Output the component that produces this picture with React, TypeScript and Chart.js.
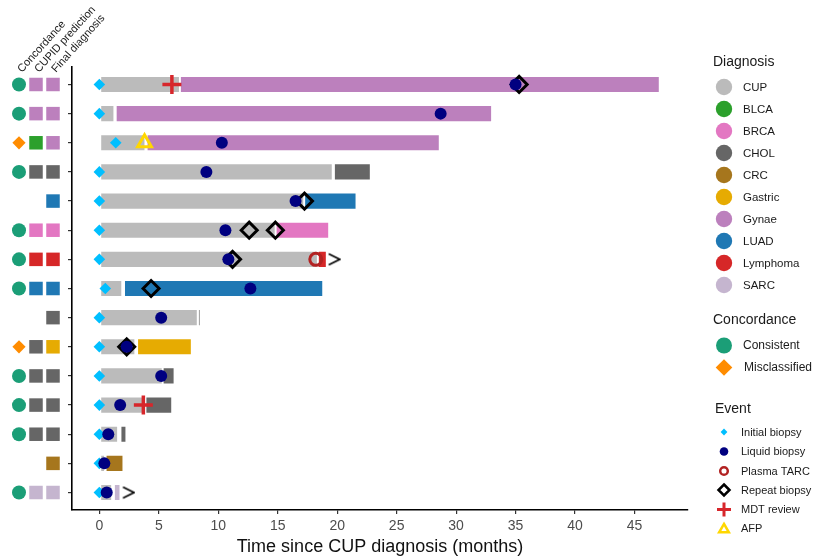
import React, { useEffect, useRef } from 'react';
import { Chart, registerables } from 'chart.js';

Chart.register(...registerables);

// ---------- data ----------
const rows = [1, 2, 3, 4, 5, 6, 7, 8, 9, 10, 11, 12, 13, 14, 15];

const diagnosisNames = ['CUP', 'BLCA', 'BRCA', 'CHOL', 'CRC', 'Gastric', 'Gynae', 'LUAD', 'Lymphoma', 'SARC'];
const diagnosisColors = ['#BBBBBB', '#2CA02C', '#E377C2', '#666666', '#A6761D', '#E6AB02', '#BC80BD', '#1F78B4', '#D62728', '#C5B5CF'];

const cupStart = [0.1, 0.1, 0.1, 0.1, 0.1, 0.1, 0.1, 0.1, 0.1, 0.1, 0.1, 0.1, 0.1, 0.1, 0.1];
const cupEnd = [6.75, 1.24, 3.85, 19.6, 17.2, 14.8, 18.35, 1.9, 8.25, 3.0, 5.3, 3.85, 1.55, 0.45, 1.05];
const finalStart = [6.8, 1.4, 4.0, 19.75, 17.25, 14.85, 18.4, 2.1, 8.35, 3.2, 5.35, 3.9, 1.8, 0.55, 1.25];
const finalEnd = [47.1, 33.0, 28.6, 22.8, 21.6, 19.3, 19.1, 18.8, 8.45, 7.75, 6.3, 6.1, 2.25, 2.0, 1.75];
const finalDiagnosis = ['Gynae', 'Gynae', 'Gynae', 'CHOL', 'LUAD', 'BRCA', 'Lymphoma', 'LUAD', 'CHOL', 'Gastric', 'CHOL', 'CHOL', 'CHOL', 'CRC', 'SARC'];
const cupidPrediction = ['Gynae', 'Gynae', 'BLCA', 'CHOL', null, 'BRCA', 'Lymphoma', 'LUAD', null, 'CHOL', 'CHOL', 'CHOL', 'CHOL', null, 'SARC'];
const concordance = ['Consistent', 'Consistent', 'Misclassified', 'Consistent', null, 'Consistent', 'Consistent', 'Consistent', null, 'Misclassified', 'Consistent', 'Consistent', 'Consistent', null, 'Consistent'];

const initialBiopsyTime = [0, 0, 1.38, 0, 0, 0, 0, 0.5, 0, 0, 0, 0, 0, 0, 0];
const liquidBiopsyTime = [35.0, 28.7, 10.3, 9.0, 16.5, 10.6, 10.85, 12.7, 5.2, 2.3, 5.2, 1.75, 0.75, 0.42, 0.62];
const plasmaTarcRow = [7];
const plasmaTarcTime = [18.2];
const repeatBiopsyRow = [1, 5, 6, 6, 7, 8, 10];
const repeatBiopsyTime = [35.3, 17.25, 12.6, 14.8, 11.2, 4.35, 2.3];
const mdtRow = [1, 12];
const mdtTime = [6.1, 3.7];
const afpRow = [3];
const afpTime = [3.8];
const ongoingRow = [7, 15];
const ongoingTime = [19.75, 2.45];

const xTicks = [0, 5, 10, 15, 20, 25, 30, 35, 40, 45];
const headerLabels = ['Concordance', 'CUPID prediction', 'Final diagnosis'];
const eventLabels = ['Initial biopsy', 'Liquid biopsy', 'Plasma TARC', 'Repeat biopsy', 'MDT review', 'AFP'];
const concordanceLabels = ['Consistent', 'Misclassified'];

// ---------- styling constants ----------
const COL_OFFSETS = [53, 36, 19]; // px left of the plot area for the three side columns
const FONT = '"Liberation Sans", Arial, Helvetica, sans-serif';
const TEAL = '#1B9E77';
const ORANGE = '#FF8C00';
const INITIAL = '#00BFFF';
const LIQUID = '#000080';
const TARC = '#B22222';
const MDT = '#D7262B';
const AFP = '#FFD700';

const colorOf = (n: string) => diagnosisColors[diagnosisNames.indexOf(n)];

function makeArrow(): HTMLCanvasElement {
  const c = document.createElement('canvas');
  c.width = 14;
  c.height = 14;
  const g = c.getContext('2d')!;
  g.strokeStyle = '#000';
  g.lineWidth = 1.6;
  g.beginPath();
  g.moveTo(1.5, 1.5);
  g.lineTo(12.5, 7);
  g.lineTo(1.5, 12.5);
  g.stroke();
  return c;
}

function diamondPath(ctx: CanvasRenderingContext2D, x: number, y: number, r: number) {
  ctx.beginPath();
  ctx.moveTo(x, y - r);
  ctx.lineTo(x + r, y);
  ctx.lineTo(x, y + r);
  ctx.lineTo(x - r, y);
  ctx.closePath();
}

function squareFill(ctx: CanvasRenderingContext2D, x: number, y: number, s: number, color: string) {
  ctx.fillStyle = color;
  ctx.fillRect(x - s / 2, y - s / 2, s, s);
}

const overlayPlugin = {
  id: 'overlay',
  afterDraw(chart: any) {
    const ctx: CanvasRenderingContext2D = chart.ctx;
    const ys = chart.scales.y;
    const left = chart.chartArea.left;
    const colX = COL_OFFSETS.map((o) => left - o);
    ctx.save();

    // side columns: concordance, CUPID prediction, final diagnosis
    rows.forEach((r, i) => {
      const y = ys.getPixelForValue(r);
      if (concordance[i] === 'Consistent') {
        ctx.beginPath();
        ctx.arc(colX[0], y, 7, 0, Math.PI * 2);
        ctx.fillStyle = TEAL;
        ctx.fill();
      } else if (concordance[i] === 'Misclassified') {
        diamondPath(ctx, colX[0], y, 6.6);
        ctx.fillStyle = ORANGE;
        ctx.fill();
      }
      const cp = cupidPrediction[i];
      if (cp) squareFill(ctx, colX[1], y, 13.5, colorOf(cp));
      squareFill(ctx, colX[2], y, 13.5, colorOf(finalDiagnosis[i]));
    });

    // rotated header labels
    ctx.fillStyle = '#1a1a1a';
    ctx.font = `11px ${FONT}`;
    ctx.textAlign = 'left';
    ctx.textBaseline = 'alphabetic';
    colX.forEach((px, i) => {
      ctx.save();
      ctx.translate(px + 3, 73);
      ctx.rotate(-48 * Math.PI / 180);
      ctx.fillText(headerLabels[i], 0, 0);
      ctx.restore();
    });

    // legend: Diagnosis
    const lx = 713;
    const mx = 724;
    ctx.textBaseline = 'middle';
    ctx.font = `14px ${FONT}`;
    ctx.fillStyle = '#1a1a1a';
    ctx.fillText('Diagnosis', lx, 62);
    ctx.font = `11.5px ${FONT}`;
    diagnosisNames.forEach((n, i) => {
      const y = 87 + i * 22;
      ctx.beginPath();
      ctx.arc(mx, y, 8.2, 0, Math.PI * 2);
      ctx.fillStyle = diagnosisColors[i];
      ctx.fill();
      ctx.fillStyle = '#1a1a1a';
      ctx.fillText(n, 743, y + 0.5);
    });

    // legend: Concordance
    ctx.font = `14px ${FONT}`;
    ctx.fillText('Concordance', lx, 320);
    ctx.font = `12px ${FONT}`;
    ctx.beginPath();
    ctx.arc(mx, 345.5, 8, 0, Math.PI * 2);
    ctx.fillStyle = TEAL;
    ctx.fill();
    diamondPath(ctx, mx, 367.5, 8.3);
    ctx.fillStyle = ORANGE;
    ctx.fill();
    ctx.fillStyle = '#1a1a1a';
    ctx.fillText(concordanceLabels[0], 743, 345.5);
    ctx.fillText(concordanceLabels[1], 744, 367.5);

    // legend: Event
    ctx.font = `14px ${FONT}`;
    ctx.fillText('Event', 715, 409);
    ctx.font = `11px ${FONT}`;
    const ey = [432, 451.5, 471, 490, 509.5, 528.5];
    diamondPath(ctx, mx, ey[0], 3.4);
    ctx.fillStyle = INITIAL;
    ctx.fill();
    ctx.beginPath();
    ctx.arc(mx, ey[1], 4.3, 0, Math.PI * 2);
    ctx.fillStyle = LIQUID;
    ctx.fill();
    ctx.beginPath();
    ctx.arc(mx, ey[2], 3.8, 0, Math.PI * 2);
    ctx.strokeStyle = TARC;
    ctx.lineWidth = 2.5;
    ctx.stroke();
    diamondPath(ctx, mx, ey[3], 5.5);
    ctx.strokeStyle = '#000';
    ctx.lineWidth = 2.5;
    ctx.stroke();
    ctx.beginPath();
    ctx.moveTo(mx - 7, ey[4]);
    ctx.lineTo(mx + 7, ey[4]);
    ctx.moveTo(mx, ey[4] - 7);
    ctx.lineTo(mx, ey[4] + 7);
    ctx.strokeStyle = MDT;
    ctx.lineWidth = 3;
    ctx.stroke();
    ctx.beginPath();
    const tr = 5.6;
    for (let k = 0; k < 3; k++) {
      const a = -Math.PI / 2 + k * 2 * Math.PI / 3;
      const px = mx + Math.cos(a) * tr;
      const py = ey[5] + 1 + Math.sin(a) * tr;
      if (k === 0) ctx.moveTo(px, py); else ctx.lineTo(px, py);
    }
    ctx.closePath();
    ctx.strokeStyle = AFP;
    ctx.lineWidth = 2.5;
    ctx.stroke();
    ctx.fillStyle = '#1a1a1a';
    eventLabels.forEach((t, i) => ctx.fillText(t, 741, ey[i] + 0.5));
    ctx.restore();
  },
};

export default function App() {
  const ref = useRef<HTMLCanvasElement | null>(null);

  useEffect(() => {
    const canvas = ref.current;
    if (!canvas) return;
    const arrow = makeArrow();

    const pts = (rs: number[], ts: number[]) => rs.map((r, i) => ({ x: ts[i], y: r }));
    const scatterBase = { type: 'scatter' as const, showLine: false };

    const chart = new Chart(canvas, {
      type: 'bar',
      data: {
        datasets: [
          {
            type: 'bar',
            indexAxis: 'y',
            data: rows.map((r, i) => ({ y: r, x: [cupStart[i], cupEnd[i]] })) as any,
            backgroundColor: colorOf('CUP'),
            borderColor: 'rgba(255,255,255,0.35)',
            borderWidth: 1,
            borderSkipped: false,
            barThickness: 16.5,
            grouped: false,
            order: 30,
          } as any,
          {
            type: 'bar',
            indexAxis: 'y',
            data: rows.map((r, i) => ({ y: r, x: [finalStart[i], finalEnd[i]] })) as any,
            backgroundColor: finalDiagnosis.map(colorOf),
            borderColor: 'rgba(255,255,255,0.35)',
            borderWidth: 1,
            borderSkipped: false,
            barThickness: 16.5,
            grouped: false,
            order: 29,
          } as any,
          {
            ...scatterBase,
            data: pts(rows, initialBiopsyTime),
            pointStyle: 'rectRot',
            pointRadius: 5.8,
            backgroundColor: INITIAL,
            borderWidth: 0,
            order: 20,
          },
          {
            ...scatterBase,
            data: pts(repeatBiopsyRow, repeatBiopsyTime),
            pointStyle: 'rectRot',
            pointRadius: 8,
            backgroundColor: 'rgba(0,0,0,0)',
            borderColor: '#000',
            borderWidth: 3,
            order: 19,
          },
          {
            ...scatterBase,
            data: pts(plasmaTarcRow, plasmaTarcTime),
            pointStyle: 'circle',
            pointRadius: 6,
            backgroundColor: 'rgba(0,0,0,0)',
            borderColor: TARC,
            borderWidth: 3,
            order: 18,
          },
          {
            ...scatterBase,
            data: pts(rows, liquidBiopsyTime),
            pointStyle: 'circle',
            pointRadius: 6,
            backgroundColor: LIQUID,
            borderWidth: 0,
            order: 17,
          },
          {
            ...scatterBase,
            data: pts(mdtRow, mdtTime),
            pointStyle: 'cross',
            pointRadius: 9.5,
            borderColor: MDT,
            borderWidth: 3.5,
            order: 16,
          },
          {
            ...scatterBase,
            data: pts(afpRow, afpTime),
            pointStyle: 'triangle',
            pointRadius: 8,
            backgroundColor: 'rgba(0,0,0,0)',
            borderColor: AFP,
            borderWidth: 3,
            order: 15,
          },
          {
            ...scatterBase,
            data: pts(ongoingRow, ongoingTime),
            pointStyle: arrow,
            pointRadius: 7,
            order: 14,
          },
        ],
      },
      options: {
        animation: false,
        responsive: false,
        events: [],
        layout: { padding: { left: 64, right: 127, top: 67, bottom: 0 } },
        plugins: {
          legend: { display: false },
          tooltip: { enabled: false },
        },
        scales: {
          x: {
            type: 'linear',
            offset: false,
            min: -2.3,
            max: 49.5,
            afterBuildTicks: (s: any) => {
              s.ticks = xTicks.map((v) => ({ value: v }));
            },
            afterFit: (s: any) => {
              s.height = 48;
            },
            grid: { offset: false, drawOnChartArea: false, drawTicks: true, tickLength: 4, color: '#333333', lineWidth: 1.2 },
            border: { display: true, color: '#000000', width: 1.6 },
            ticks: { color: '#4D4D4D', font: { family: FONT, size: 14 }, padding: 4 },
            title: {
              display: true,
              text: 'Time since CUP diagnosis (months)',
              color: '#111111',
              font: { family: FONT, size: 18 },
              padding: { top: 0, bottom: 0 },
            },
          },
          y: {
            type: 'linear',
            offset: false,
            reverse: true,
            min: 0.4,
            max: 15.6,
            afterBuildTicks: (s: any) => {
              s.ticks = rows.map((v) => ({ value: v }));
            },
            afterFit: (s: any) => {
              s.width = 8;
            },
            grid: { offset: false, drawOnChartArea: false, drawTicks: true, tickLength: 4, color: '#333333', lineWidth: 1.2 },
            border: { display: true, color: '#000000', width: 1.6 },
            ticks: { display: false },
          },
        },
      } as any,
      plugins: [overlayPlugin],
    });
    return () => chart.destroy();
  }, []);

  return (
    <div style={{ position: 'fixed', left: 0, top: 0, width: 815, height: 558, background: '#ffffff' }}>
      <canvas ref={ref} width={815} height={558} style={{ width: 815, height: 558, display: 'block' }} />
    </div>
  );
}
